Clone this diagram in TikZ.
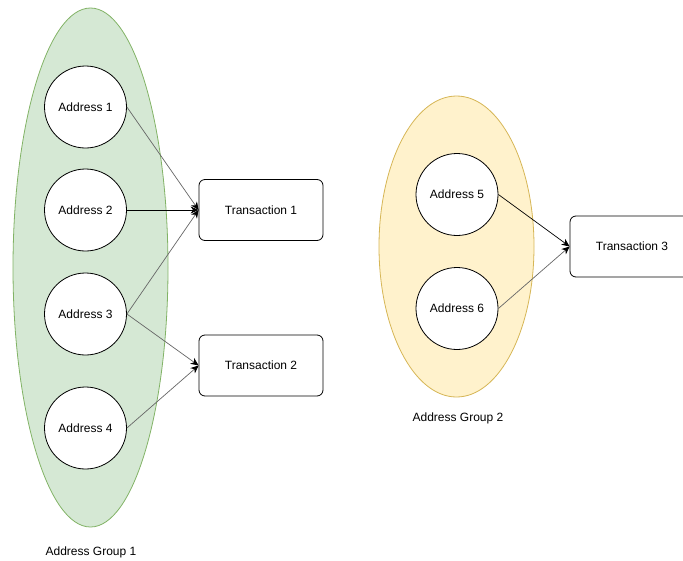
\documentclass[tikz,border=0pt]{standalone}
\usepackage{fontspec}
\setmainfont{Liberation Sans}
\usetikzlibrary{arrows.meta,shapes.geometric}
\definecolor{grpgreen}{HTML}{D5E8D4}
\definecolor{grpgreenline}{HTML}{82B366}
\definecolor{grpyellow}{HTML}{FFF2CC}
\definecolor{grpyellowline}{HTML}{D6B656}
\tikzset{
  addr/.style={circle, draw=black, fill=white, line width=0.8pt, minimum size=82pt, inner sep=0pt, font=\fontsize{12}{14}\selectfont},
  trans/.style={rectangle, rounded corners=6pt, draw=black, fill=white, line width=0.8pt, minimum width=124pt, minimum height=61pt, inner sep=0pt, font=\fontsize{12}{14}\selectfont},
  grp/.style={ellipse, line width=0.8pt, inner sep=0pt},
  lbl/.style={font=\fontsize{12}{14}\selectfont, inner sep=0pt},
  conn/.style={draw=black!60, line width=0.7pt, -{Stealth[length=8pt,width=7pt,inset=2.5pt,color=black,fill=black]}},
  connd/.style={conn, draw=black}
}
\begin{document}
\begin{tikzpicture}[x=1pt,y=-1pt]
\useasboundingbox (0,0) rectangle (683,560);
\node[grp, draw=grpgreenline, fill=grpgreen, minimum width=155pt, minimum height=519pt] (g1) at (90.5,267.5) {};
\node[grp, draw=grpyellowline, fill=grpyellow, minimum width=155pt, minimum height=301pt] (g2) at (456.5,246.5) {};
\node[addr] (a1) at (85.5,107) {Address 1};
\node[addr] (a2) at (85.5,210) {Address 2};
\node[addr] (a3) at (85.5,314) {Address 3};
\node[addr] (a4) at (85.5,428) {Address 4};
\node[addr] (a5) at (457,194.5) {Address 5};
\node[addr] (a6) at (457,308.5) {Address 6};
\node[trans] (t1) at (261,210) {Transaction 1};
\node[trans] (t2) at (261,365.5) {Transaction 2};
\node[trans] (t3) at (632,246.5) {Transaction 3};
\node[lbl] (l1) at (91,552) {Address Group 1};
\node[lbl] (l2) at (458,418) {Address Group 2};
\draw[conn] (a1.east) -- (t1.west);
\draw[connd] (a2.east) -- (t1.west);
\draw[conn] (a3.east) -- (t1.west);
\draw[conn] (a3.east) -- (t2.west);
\draw[conn] (a4.east) -- (t2.west);
\draw[connd] (a5.east) -- (t3.west);
\draw[conn] (a6.east) -- (t3.west);
\end{tikzpicture}
\end{document}
